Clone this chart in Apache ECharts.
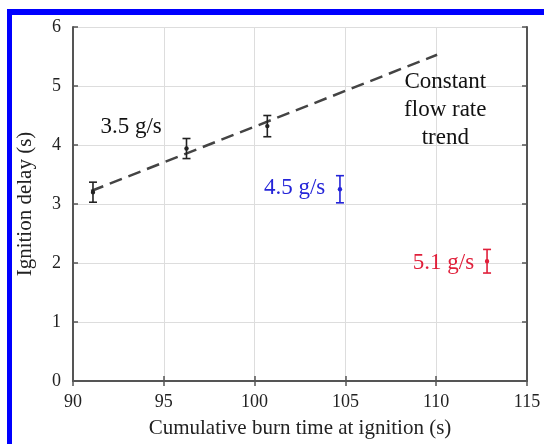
<!DOCTYPE html>
<html>
<head>
<meta charset="utf-8">
<script src="https://cdn.jsdelivr.net/npm/echarts@6/dist/echarts.min.js"></script>
<style>
  html, body { margin: 0; padding: 0; background: #fff; }
  #chart { width: 544px; height: 444px; }
</style>
</head>
<body>
<div id="chart"></div>
<script>
// measured points (cumulative burn time, ignition delay, +/- error)
var blackX = [91.1, 96.25, 100.7];
var blackY = [3.2, 3.94, 4.32];
var blackErr = [0.17, 0.17, 0.18];
var blueX = [104.7];
var blueY = [3.25];
var blueErr = [0.23];
var redX = [112.8];
var redY = [2.03];
var redErr = [0.2];

// constant flow rate trend line
var trendX = [91.0, 110.05];
var trendY = [3.22, 5.53];

// annotations
var noteText = ['3.5 g/s', '4.5 g/s', '5.1 g/s', 'Constant\nflow rate\ntrend'];
var noteX = [93.2, 102.2, 110.4, 110.5];
var noteY = [4.3, 3.27, 2.0, 4.6];
var noteColor = ['#111', '#2424d8', '#e01f3a', '#111'];

var xTicks = [90, 95, 100, 105, 110, 115];
var yTicks = [0, 1, 2, 3, 4, 5, 6];

var serif = 'Liberation Serif';
var axisColor = '#555';

function pairs(xs, ys, es) {
    return xs.map(function(x, i) { return [x, ys[i], es[i]]; });
}

function errorSeries(data, color) {
    return {
        type: 'custom',
        data: data,
        z: 5,
        renderItem: function(params, api) {
            var x = api.value(0), y = api.value(1), e = api.value(2);
            var hi = api.coord([x, y + e]);
            var lo = api.coord([x, y - e]);
            var mid = api.coord([x, y]);
            var w = 4;
            var st = { stroke: color, lineWidth: 1.6 };
            return {
                type: 'group',
                children: [
                    { type: 'line', shape: { x1: hi[0], y1: hi[1], x2: lo[0], y2: lo[1] }, style: st },
                    { type: 'line', shape: { x1: hi[0] - w, y1: hi[1], x2: hi[0] + w, y2: hi[1] }, style: st },
                    { type: 'line', shape: { x1: lo[0] - w, y1: lo[1], x2: lo[0] + w, y2: lo[1] }, style: st },
                    { type: 'circle', shape: { cx: mid[0], cy: mid[1], r: 2.2 }, style: { fill: color } }
                ]
            };
        }
    };
}

var chart = echarts.init(document.getElementById('chart'));
chart.setOption({
    backgroundColor: '#fff',
    animation: false,
    grid: { left: 73, right: 17, top: 27, bottom: 61 },
    graphic: [
        { type: 'rect', shape: { x: 7, y: 9, width: 5, height: 440 }, style: { fill: '#0000ff' } },
        { type: 'rect', shape: { x: 7, y: 9, width: 540, height: 6 }, style: { fill: '#0000ff' } }
    ],
    xAxis: [{
        type: 'value', min: xTicks[0], max: xTicks[xTicks.length - 1], interval: 5,
        name: 'Cumulative burn time at ignition (s)', nameLocation: 'middle', nameGap: 37,
        nameTextStyle: { fontFamily: serif, fontSize: 21, color: '#222' },
        axisLine: { lineStyle: { color: axisColor, width: 2 } },
        axisTick: { inside: true, length: 5, lineStyle: { color: axisColor, width: 1.5 } },
        axisLabel: { fontFamily: serif, fontSize: 18, color: '#222', margin: 12 },
        splitLine: { lineStyle: { color: '#ddd', width: 1 } }
    }, {
        type: 'value', position: 'top', min: xTicks[0], max: xTicks[xTicks.length - 1], interval: 5,
        axisLine: { lineStyle: { color: axisColor, width: 2 } },
        axisTick: { inside: true, length: 5, lineStyle: { color: axisColor, width: 1.5 } },
        axisLabel: { show: false },
        splitLine: { show: false }
    }],
    yAxis: [{
        type: 'value', min: yTicks[0], max: yTicks[yTicks.length - 1], interval: 1,
        name: 'Ignition delay (s)', nameLocation: 'middle', nameGap: 37,
        nameTextStyle: { fontFamily: serif, fontSize: 21, color: '#222' },
        axisLine: { show: true, lineStyle: { color: axisColor, width: 2 } },
        axisTick: { show: true, inside: true, length: 5, lineStyle: { color: axisColor, width: 1.5 } },
        axisLabel: { fontFamily: serif, fontSize: 18, color: '#222', margin: 12 },
        splitLine: { lineStyle: { color: '#ddd', width: 1 } }
    }, {
        type: 'value', position: 'right', min: yTicks[0], max: yTicks[yTicks.length - 1], interval: 1,
        axisLine: { show: true, lineStyle: { color: axisColor, width: 2 } },
        axisTick: { show: true, inside: true, length: 5, lineStyle: { color: axisColor, width: 1.5 } },
        axisLabel: { show: false },
        splitLine: { show: false }
    }],
    series: [
        {
            type: 'line',
            data: trendX.map(function(x, i) { return [x, trendY[i]]; }),
            symbol: 'none',
            lineStyle: { color: '#444', width: 2.5, type: [13, 7] },
            z: 3
        },
        errorSeries(pairs(blackX, blackY, blackErr), '#222'),
        errorSeries(pairs(blueX, blueY, blueErr), '#2424d8'),
        errorSeries(pairs(redX, redY, redErr), '#e01f3a'),
        {
            type: 'custom',
            z: 6,
            data: noteText.map(function(t, i) { return [noteX[i], noteY[i], i]; }),
            renderItem: function(params, api) {
                var i = api.value(2);
                var p = api.coord([api.value(0), api.value(1)]);
                return {
                    type: 'text',
                    x: p[0], y: p[1],
                    style: {
                        text: noteText[i], fill: noteColor[i],
                        font: '23px "' + serif + '"', lineHeight: 28,
                        align: 'center', verticalAlign: 'middle'
                    }
                };
            }
        }
    ]
});
</script>
</body>
</html>
